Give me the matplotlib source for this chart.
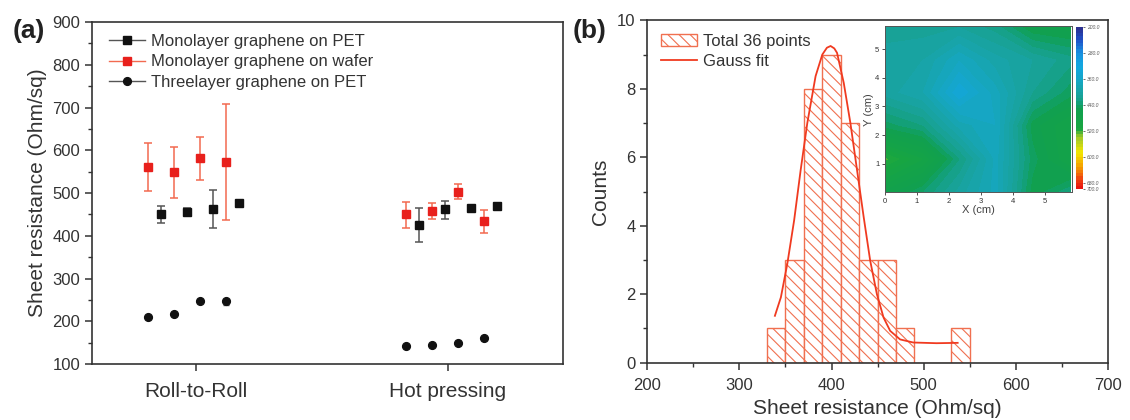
"""Sheet resistance of transferred graphene: (a) by process, (b) histogram + map."""

import matplotlib

matplotlib.use("Agg")
import matplotlib.pyplot as plt
import numpy as np
from matplotlib.colors import LinearSegmentedColormap
from matplotlib.lines import Line2D
from matplotlib.patches import Patch
from matplotlib.ticker import MultipleLocator

plt.rcParams["font.family"] = ["Liberation Sans", "DejaVu Sans"]
plt.rcParams["hatch.linewidth"] = 0.8

# ---- panel (a) data (Ohm/sq) ----
categories = ["Roll-to-Roll", "Hot pressing"]

rtr_wafer = [562, 550, 581, 573]
rtr_wafer_hi = [618, 608, 632, 708]
rtr_wafer_lo = [505, 489, 530, 437]
rtr_pet = [451, 456, 462, 476]
rtr_pet_hi = [470, 464, 508, 479]
rtr_pet_lo = [430, 448, 417, 473]
rtr_three = [209, 218, 248, 247]
rtr_three_hi = [213, 222, 252, 252]
rtr_three_lo = [205, 214, 244, 239]

hp_wafer = [451, 458, 502, 434]
hp_wafer_hi = [480, 476, 520, 460]
hp_wafer_lo = [419, 439, 485, 406]
hp_pet = [426, 462, 466, 469]
hp_pet_hi = [464, 481, 469, 472]
hp_pet_lo = [385, 439, 463, 466]
hp_three = [142, 144, 149, 160]
hp_three_hi = [145, 147, 152, 163]
hp_three_lo = [139, 141, 146, 157]

# ---- panel (b) data ----
bin_edges = [330, 350, 370, 390, 410, 430, 450, 470, 490, 510, 530, 550]
counts = [1, 3, 8, 9, 7, 3, 3, 1, 0, 0, 1]
gauss_x = [338.5, 345, 352, 359.4, 366.5, 373.7, 382.7, 390, 395, 399, 403, 406,
           413.3, 420.5, 427.7, 434.9, 442, 449.3, 456.5, 463.7, 474.5, 488.8, 514, 537]
gauss_y = [1.37, 1.91, 2.89, 4.16, 5.63, 7.0, 8.37, 9.0, 9.2, 9.25, 9.18, 9.05,
           8.17, 7.0, 5.63, 4.26, 2.98, 2.0, 1.32, 0.93, 0.68, 0.59, 0.57, 0.58]

# inset map, 6 x 6 points (rows: Y from bottom)
map_x = [0, 1.16, 2.32, 3.48, 4.64, 5.8]
map_y = [0, 1.16, 2.32, 3.48, 4.64, 5.8]
map_r = [
    [465, 440, 405, 375, 455, 430],
    [522, 490, 430, 375, 445, 480],
    [445, 430, 385, 370, 455, 480],
    [405, 390, 340, 375, 420, 445],
    [405, 400, 370, 395, 410, 425],
    [415, 415, 410, 425, 460, 465],
]
cbar_ticks = [200, 280, 360, 440, 520, 600, 680, 700]

RED = "#e8201c"
RED_ERR = "#f26a50"
BLK = "#111111"
BLK_ERR = "#555555"
HATCH = "#f07050"


def _style(ax):
    for s in ax.spines.values():
        s.set_linewidth(1.2)
        s.set_color("#333333")
    ax.tick_params(direction="out", length=5, width=1.1, labelsize=12, colors="#333333")
    ax.tick_params(which="minor", direction="out", length=3, width=1.0, colors="#333333")
    ax.tick_params(top=False, right=False, which="both")


fig = plt.figure(figsize=(11.3, 4.2), dpi=100)

# ---------------- (a) ----------------
ax = fig.add_axes([0.0814, 0.1333, 0.4168, 0.8143])
step = 0.0515
groups = [
    (1, -0.188, rtr_wafer, rtr_wafer_lo, rtr_wafer_hi, rtr_pet, rtr_pet_lo, rtr_pet_hi,
     rtr_three, rtr_three_lo, rtr_three_hi),
    (2, -0.166, hp_wafer, hp_wafer_lo, hp_wafer_hi, hp_pet, hp_pet_lo, hp_pet_hi,
     hp_three, hp_three_lo, hp_three_hi),
]
for pos, off, w, wlo, whi, p, plo, phi, t, tlo, thi in groups:
    xs_even = pos + off + step * np.arange(0, 8, 2)
    xs_odd = pos + off + step * np.arange(1, 8, 2)
    w, p, t = np.array(w), np.array(p), np.array(t)
    ax.errorbar(xs_even, w, yerr=[w - np.array(wlo), np.array(whi) - w], fmt="s",
                ms=5.2, color=RED, ecolor=RED_ERR, elinewidth=1.1, capsize=3, capthick=1.1, zorder=3)
    ax.errorbar(xs_odd, p, yerr=[p - np.array(plo), np.array(phi) - p], fmt="s",
                ms=5.2, color=BLK, ecolor=BLK_ERR, elinewidth=1.1, capsize=3, capthick=1.1, zorder=3)
    ax.errorbar(xs_even, t, yerr=[t - np.array(tlo), np.array(thi) - t], fmt="o",
                ms=5.6, color=BLK, ecolor=BLK_ERR, elinewidth=1.0, capsize=2.5, capthick=1.0, zorder=3)

ax.set_xlim(0.59, 2.455)
ax.set_ylim(100, 900)
ax.set_xticks([1, 2])
ax.set_xticklabels(categories, fontsize=15)
ax.yaxis.set_major_locator(MultipleLocator(100))
ax.yaxis.set_minor_locator(MultipleLocator(50))
_style(ax)
ax.tick_params(axis="x", labelsize=15, pad=8)
ax.set_ylabel("Sheet resistance (Ohm/sq)", fontsize=15, color="#333333", labelpad=4)

handles = [
    Line2D([], [], color=BLK_ERR, lw=1.0, marker="s", ms=5.2, mfc=BLK, mec=BLK),
    Line2D([], [], color=RED_ERR, lw=1.0, marker="s", ms=5.2, mfc=RED, mec=RED),
    Line2D([], [], color=BLK_ERR, lw=1.0, marker="o", ms=5.6, mfc=BLK, mec=BLK),
]
labels = ["Monolayer graphene on PET", "Monolayer graphene on wafer", "Threelayer graphene on PET"]
ax.legend(handles, labels, loc="upper left", bbox_to_anchor=(0.0, 1.015), frameon=False,
          fontsize=12, handlelength=2.2, handletextpad=0.35, labelspacing=0.35,
          borderaxespad=0.6, labelcolor="#333333")
fig.text(0.011, 0.91, "(a)", fontsize=19, fontweight="bold", color="#222222")

# ---------------- (b) ----------------
bx = fig.add_axes([0.5729, 0.1364, 0.4074, 0.8152])
edges = np.array(bin_edges)
bx.bar(edges[:-1], counts, width=np.diff(edges), align="edge", facecolor="white",
       edgecolor=HATCH, hatch="\\\\\\", linewidth=1.0, zorder=2)
bx.plot(gauss_x, gauss_y, color="#f03a20", lw=1.3, zorder=3)
bx.set_xlim(200, 700)
bx.set_ylim(0, 10)
bx.xaxis.set_major_locator(MultipleLocator(100))
bx.xaxis.set_minor_locator(MultipleLocator(50))
bx.yaxis.set_major_locator(MultipleLocator(2))
bx.yaxis.set_minor_locator(MultipleLocator(1))
_style(bx)
bx.tick_params(axis="x", pad=6)
bx.set_xlabel("Sheet resistance (Ohm/sq)", fontsize=15, color="#333333", labelpad=4)
bx.set_ylabel("Counts", fontsize=15, color="#333333", labelpad=5)
hb = [Patch(facecolor="white", edgecolor=HATCH, hatch="\\\\\\", lw=1.0),
      Line2D([], [], color="#f03a20", lw=1.3)]
bx.legend(hb, ["Total 36 points", "Gauss fit"], loc="upper left", frameon=False,
          fontsize=12, handlelength=2.2, handletextpad=0.35, labelspacing=0.3,
          borderaxespad=0.4, labelcolor="#333333")
fig.text(0.507, 0.91, "(b)", fontsize=19, fontweight="bold", color="#222222")

# inset map
cmap = LinearSegmentedColormap.from_list("rs", [
    (0.00, "#2c2c8a"), (0.08, "#1f50c8"), (0.16, "#1890e0"), (0.24, "#12a8e0"),
    (0.29, "#14a6d4"), (0.34, "#16a6c0"), (0.39, "#18a4a8"), (0.44, "#18a294"),
    (0.48, "#12a070"), (0.50, "#10a050"), (0.63, "#18a640"), (0.68, "#a0c828"),
    (0.78, "#f5e600"), (0.86, "#f5a000"), (0.94, "#f04010"), (1.00, "#e81010")])
ix = fig.add_axes([0.783, 0.5421, 0.1656, 0.3952])
cf = ix.contourf(map_x, map_y, np.array(map_r), levels=np.arange(200, 701, 10),
                 cmap=cmap, vmin=200, vmax=700)
ix.set_xlim(0, 5.85)
ix.set_ylim(0, 5.8)
ix.set_xticks(range(0, 6))
ix.set_yticks(range(1, 6))
ix.tick_params(labelsize=5.5, length=2.5, width=0.6, pad=1.5, colors="#333333")
for s in ix.spines.values():
    s.set_linewidth(0.7)
    s.set_color("#555555")
ix.set_xlabel("X (cm)", fontsize=8, labelpad=0, color="#444444")
ix.set_ylabel("Y (cm)", fontsize=8, labelpad=1, color="#444444")

cax = fig.add_axes([0.952, 0.5493, 0.0067, 0.3871])
cb = fig.colorbar(cf, cax=cax, ticks=cbar_ticks)
cax.invert_yaxis()
cb.outline.set_visible(False)
cax.set_yticklabels([f"{t:.1f}" for t in cbar_ticks], style="italic", color="#555555")
cax.tick_params(labelsize=3.6, length=1.5, width=0.4, pad=1)

fig.savefig("out.png", dpi=100)
